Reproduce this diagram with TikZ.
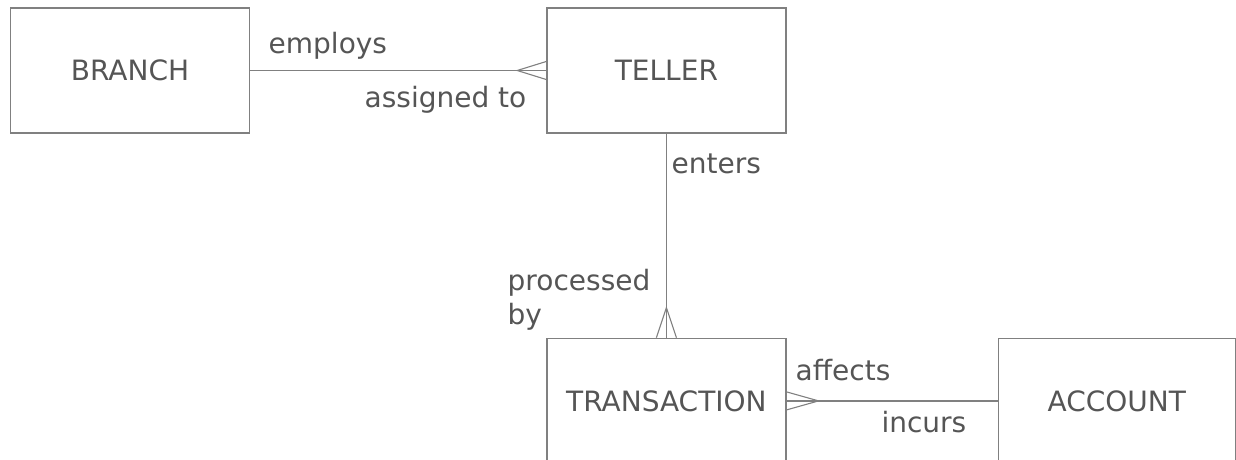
\documentclass[tikz,border=0pt]{standalone}
\usepackage{fontspec}
\setmainfont{DejaVu Sans}
\usetikzlibrary{positioning}
\definecolor{linegray}{HTML}{808080}
\definecolor{textgray}{HTML}{555555}

\begin{document}
\begin{tikzpicture}[x=1pt,y=-1pt,line width=1.4pt,draw=linegray,
  entity/.style={rectangle,draw=linegray,text=textgray,minimum width=239pt,minimum height=125pt,inner sep=0pt,font=\fontsize{28}{33}\selectfont},
  role/.style={text=textgray,inner sep=0pt,font=\fontsize{28}{33}\selectfont},
  crow/.style={draw=linegray,line width=1.1pt}]

  \useasboundingbox (0,0) rectangle (1236,460);

  \node[entity] (branch) at (130,70.5) {BRANCH};
  \node[entity] (teller) [right=296pt of branch] {TELLER};
  \node[entity] (transaction) [below=204pt of teller] {TRANSACTION};
  \node[entity,minimum width=237pt] (account) [right=211pt of transaction] {ACCOUNT};

  % relationships
  \draw[linegray] (branch.east) -- (teller.west);
  \draw[linegray] (teller.south) -- (transaction.north);
  \draw[linegray] (transaction.east) -- (account.west);

  % crow's feet
  \draw[crow] ([yshift=9pt]teller.west) -- ([xshift=-29pt]teller.west) -- ([yshift=-9pt]teller.west);
  \draw[crow] ([xshift=-10pt]transaction.north) -- ([yshift=30pt]transaction.north) -- ([xshift=10pt]transaction.north);
  \draw[crow] ([yshift=9pt]transaction.east) -- ([xshift=32pt]transaction.east) -- ([yshift=-9pt]transaction.east);

  % role names
  \node[role,anchor=base west] (employs) at (268,53) {employs};
  \node[role,anchor=base east] (assigned) at (527,107) {assigned to};
  \node[role,anchor=base west] (enters) at (671,173) {enters};
  \node[role,anchor=base west] (processed) at (507,290) {processed};
  \node[role,anchor=base west] (by) at (507,324) {by};
  \node[role,anchor=base west] (affects) at (795,380) {affects};
  \node[role,anchor=base east] (incurs) at (967,432) {incurs};
\end{tikzpicture}
\end{document}
